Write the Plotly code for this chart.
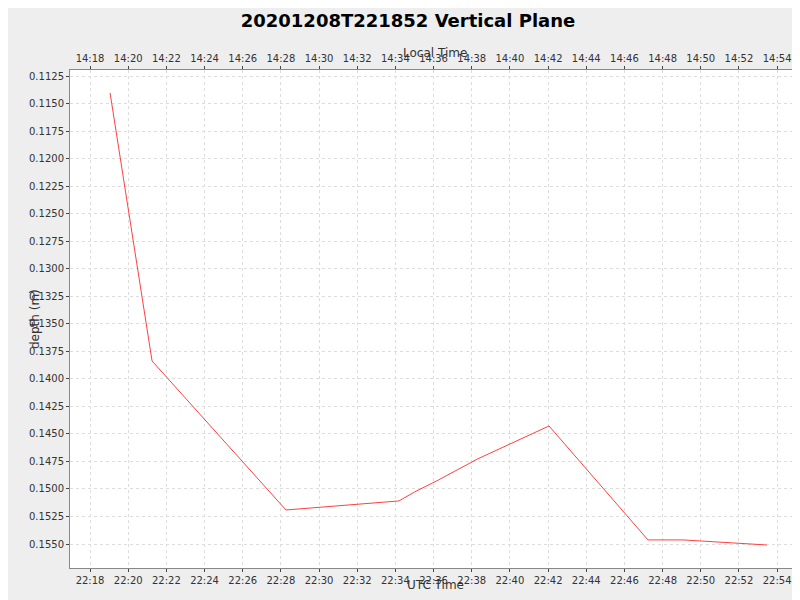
import plotly.graph_objects as go
import pandas as pd

utc_times = ["2020-12-08 22:19:03", "2020-12-08 22:21:15", "2020-12-08 22:28:16", "2020-12-08 22:34:11",
             "2020-12-08 22:35:00", "2020-12-08 22:36:15", "2020-12-08 22:38:18", "2020-12-08 22:42:03",
             "2020-12-08 22:47:14", "2020-12-08 22:49:04", "2020-12-08 22:53:28"]
depths = [0.11404, 0.13838, 0.15191, 0.15109, 0.15028, 0.14919, 0.14728, 0.14428, 0.15463, 0.15463, 0.15509]
x_range = ["2020-12-08 22:16:57", "2020-12-08 22:55:12"]
y_range = [0.15718, 0.11195]
local_offset_hours = -8

t = pd.to_datetime(utc_times)
lr = [str(pd.Timestamp(v) + pd.Timedelta(hours=local_offset_hours)) for v in x_range]

fig = go.Figure()
fig.add_trace(go.Scatter(x=t, y=depths, mode="lines", line=dict(color="#ff4040", width=1), showlegend=False))
fig.add_trace(go.Scatter(x=t + pd.Timedelta(hours=local_offset_hours), y=depths, xaxis="x2", mode="lines",
                         line=dict(width=0), opacity=0, showlegend=False, hoverinfo="skip"))
axfont = dict(family="DejaVu Sans", size=10, color="#333")
grid = dict(showgrid=True, gridcolor="#dddddd", griddash="3px,3px", gridwidth=1)
fig.update_layout(
    width=800, height=600, paper_bgcolor="#eeeeee", plot_bgcolor="white",
    margin=dict(l=62, r=8, t=62, b=40, autoexpand=False),
    title=dict(text="<b>20201208T221852 Vertical Plane</b>", x=0.5, y=0.99, yanchor="top",
               font=dict(family="DejaVu Sans", size=18, color="black")),
    font=dict(family="DejaVu Sans", size=12, color="#333"),
    xaxis=dict(range=x_range, tickformat="%H:%M", dtick=120000, tick0="2020-12-08 22:18:00",
               tickfont=axfont, automargin=False,
               ticks="outside", ticklen=3, showline=True, linecolor="#888", zeroline=False, **grid),
    xaxis2=dict(range=lr, overlaying="x", side="top", tickformat="%H:%M", dtick=120000,
                tick0="2020-12-08 14:18:00", showgrid=False, tickfont=axfont, ticks="outside", ticklen=3,
                showline=True, linecolor="#888", automargin=False),
    yaxis=dict(range=y_range, dtick=0.0025, tick0=0.1125, tickformat=".4f", automargin=False,
               tickfont=axfont, ticks="outside", ticklen=3,
               showline=True, linecolor="#888", mirror=True, zeroline=False, **grid),
    annotations=[
        dict(text="Local Time", xref="paper", yref="paper", x=0.5, y=1, yshift=26, showarrow=False,
             font=dict(size=12, color="#333")),
        dict(text="UTC Time", xref="paper", yref="paper", x=0.5, y=0, yshift=-26, showarrow=False,
             font=dict(size=12, color="#333")),
        dict(text="depth (m)", xref="paper", yref="paper", x=0, xshift=-44, y=0.5, textangle=-90,
             showarrow=False, font=dict(size=12, color="#333")),
    ],
)
fig.write_html("out.html")
